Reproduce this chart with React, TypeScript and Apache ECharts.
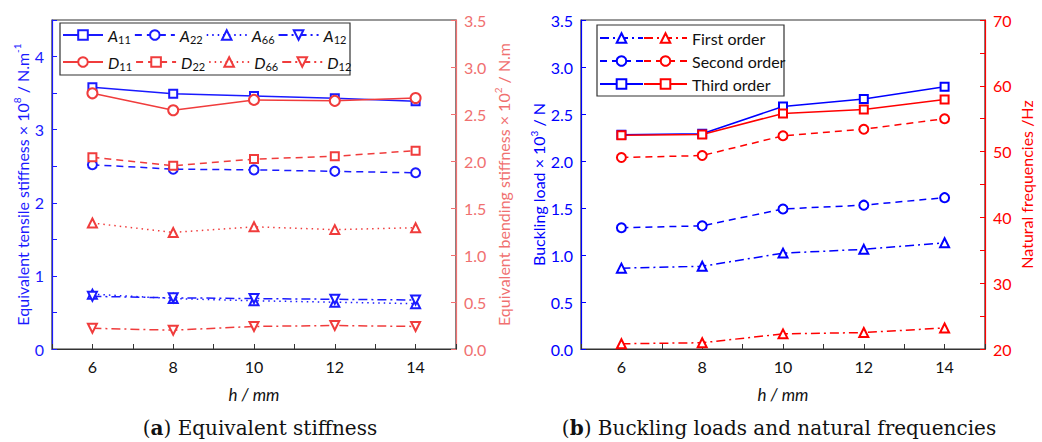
import React, { useEffect, useRef } from "react";
import * as echarts from "echarts";

const H = [6, 8, 10, 12, 14];

// (a) Equivalent stiffness
const A11 = [3.58, 3.49, 3.46, 3.43, 3.39];
const A22 = [2.52, 2.46, 2.45, 2.43, 2.41];
const A66 = [0.75, 0.69, 0.66, 0.64, 0.62];
const A12 = [0.72, 0.7, 0.69, 0.68, 0.67];
const D11 = [2.72, 2.54, 2.65, 2.64, 2.67];
const D22 = [2.04, 1.95, 2.02, 2.05, 2.11];
const D66 = [1.34, 1.24, 1.3, 1.27, 1.29];
const D12 = [0.22, 0.2, 0.24, 0.25, 0.24];

// (b) Buckling loads (x10^3 N) and natural frequencies (Hz)
const buck1 = [0.86, 0.88, 1.02, 1.06, 1.13];
const buck2 = [1.29, 1.31, 1.49, 1.53, 1.61];
const buck3 = [2.28, 2.29, 2.58, 2.66, 2.79];
const freq1 = [20.8, 20.95, 22.3, 22.5, 23.2];
const freq2 = [49.1, 49.4, 52.4, 53.4, 55.0];
const freq3 = [52.5, 52.6, 55.8, 56.4, 57.9];

const BLUE = "#1a1aff";
const RED_A = "#f03c3c";
const RED_A_AXIS = "#f07070";
const BLUE_B = "#0000ff";
const RED_B = "#ff0000";
const FONT = "Lato";
const SERIF = "DejaVu Serif";

const DASH = [7, 5];
const DOT = [1.5, 4];
const DASHDOT = [9, 4, 2, 4];

function mk(
  name: string,
  vals: number[],
  gi: number,
  yi: number,
  color: string,
  type: any,
  symbol: string,
  rotate = 0,
  size = 9
) {
  return {
    name,
    type: "line",
    xAxisIndex: gi,
    yAxisIndex: yi,
    data: H.map((h, i) => [h, vals[i]]),
    color,
    symbol,
    symbolSize: size,
    symbolRotate: rotate,
    showAllSymbol: true,
    lineStyle: { color, width: 1.5, type },
    itemStyle: { color, borderColor: color, borderWidth: 1.3 },
    emphasis: { disabled: true },
    z: 2,
  };
}

const subFmt = (name: string) => `{i|${name[0]}}{s|${name.slice(1)}}`;
const legendRich = {
  i: { fontStyle: "italic", fontSize: 16, fontFamily: FONT, color: "#111", lineHeight: 20, verticalAlign: "middle" },
  s: { fontSize: 11, fontFamily: FONT, color: "#111", lineHeight: 20, verticalAlign: "bottom", padding: [6, 0, 0, 0] },
};
const supRich = (color: string) => ({
  sup: { fontSize: 10, fontFamily: FONT, color, verticalAlign: "top", lineHeight: 20, padding: [0, 0, 8, 0] },
});

function xAxis(gi: number) {
  return {
    type: "value",
    gridIndex: gi,
    min: 5,
    max: 15,
    interval: 1,
    axisLine: { show: true, lineStyle: { color: "#333", width: 1.2 } },
    axisTick: { show: true, inside: true, length: 5, lineStyle: { color: "#333" } },
    axisLabel: {
      color: "#111",
      fontSize: 16,
      fontFamily: FONT,
      margin: 9,
      formatter: (v: number) => (v % 2 === 0 ? String(v) : ""),
    },
    splitLine: { show: false },
    name: "h / mm",
    nameLocation: "middle",
    nameGap: 37,
    nameTextStyle: { fontStyle: "italic", fontSize: 17, fontFamily: FONT, color: "#111" },
  };
}

function yAxis(
  gi: number,
  pos: string,
  min: number,
  max: number,
  interval: number,
  color: string,
  fmt: (v: number) => string,
  name: string,
  nameGap: number
) {
  return {
    type: "value",
    gridIndex: gi,
    position: pos,
    min,
    max,
    interval,
    axisLine: { show: true, lineStyle: { color, width: 1.2 } },
    axisTick: { show: true, inside: true, length: 5, lineStyle: { color } },
    axisLabel: { color, fontSize: 16, fontFamily: FONT, margin: 8, formatter: fmt, showMaxLabel: true },
    splitLine: { show: false },
    name,
    nameLocation: "middle",
    nameRotate: 90,
    nameGap,
    nameTextStyle: { color, fontSize: 16, fontFamily: FONT, rich: supRich(color) },
  };
}

export default function App() {
  const ref = useRef<HTMLDivElement>(null);
  useEffect(() => {
    if (!ref.current) return;
    const chart = echarts.init(ref.current, undefined, { renderer: "svg" });
    const option: any = {
      animation: false,
      backgroundColor: "#fff",
      textStyle: { fontFamily: FONT },
      grid: [
        { left: 52, top: 20, width: 404, height: 329, show: true, borderColor: "#333", borderWidth: 1.2, backgroundColor: "transparent" },
        { left: 581, top: 20, width: 404, height: 329, show: true, borderColor: "#333", borderWidth: 1.2, backgroundColor: "transparent" },
      ],
      xAxis: [xAxis(0), xAxis(1)],
      yAxis: [
        yAxis(0, "left", 0, 4.5, 0.5, BLUE, (v) => (Number.isInteger(v) ? String(v) : ""),
          "Equivalent tensile stiffness × 10{sup|8} / N.m{sup|-1}", 20),
        yAxis(0, "right", 0, 3.5, 0.5, RED_A_AXIS, (v) => v.toFixed(1),
          "Equivalent bending stiffness × 10{sup|2} / N.m", 37),
        yAxis(1, "left", 0, 3.5, 0.5, BLUE_B, (v) => v.toFixed(1), "Buckling load × 10{sup|3} / N", 32),
        yAxis(1, "right", 20, 70, 5, RED_B, (v) => (v % 10 === 0 ? String(v) : ""), "Natural frequencies /Hz", 33),
      ],
      legend: [
        {
          data: ["A11", "A22", "A66", "A12"],
          left: 62, top: 25, padding: 0, itemWidth: 40, itemHeight: 12, itemGap: 3,
          formatter: subFmt, textStyle: { rich: legendRich, lineHeight: 20 }, selectedMode: false,
        },
        {
          data: ["D11", "D22", "D66", "D12"],
          left: 62, top: 52, padding: 0, itemWidth: 40, itemHeight: 12, itemGap: 3,
          formatter: subFmt, textStyle: { rich: legendRich, lineHeight: 20 }, selectedMode: false,
        },
        {
          data: ["First order (load)", "Second order (load)", "Third order (load)"],
          orient: "vertical", left: 599, top: 28, padding: 0, itemWidth: 43, itemHeight: 12, itemGap: 3,
          formatter: () => " ", textStyle: { fontSize: 16, lineHeight: 20, fontFamily: FONT }, selectedMode: false,
        },
        {
          data: ["First order", "Second order", "Third order"],
          orient: "vertical", left: 643, top: 28, padding: 0, itemWidth: 43, itemHeight: 12, itemGap: 3,
          textStyle: { fontSize: 16, lineHeight: 20, fontFamily: FONT, color: "#111" }, selectedMode: false,
        },
      ],
      graphic: [
        { type: "rect", shape: { x: 60, y: 23, width: 290, height: 52 }, style: { fill: "#fff", stroke: "#333", lineWidth: 1.2 }, z: 3 },
        { type: "rect", shape: { x: 597, y: 25, width: 187, height: 71 }, style: { fill: "#fff", stroke: "#333", lineWidth: 1.2 }, z: 3 },
        {
          type: "text", x: 260, y: 428, z: 5,
          style: {
            text: "({b|a}) Equivalent stiffness",
            font: `20px "${SERIF}"`, fill: "#111", align: "center", verticalAlign: "middle",
            rich: { b: { fontWeight: "bold", fontSize: 20, fontFamily: SERIF, fill: "#111" } },
          },
        },
        {
          type: "text", x: 779, y: 428, z: 5,
          style: {
            text: "({b|b}) Buckling loads and natural frequencies",
            font: `20px "${SERIF}"`, fill: "#111", align: "center", verticalAlign: "middle",
            rich: { b: { fontWeight: "bold", fontSize: 20, fontFamily: SERIF, fill: "#111" } },
          },
        },
      ],
      series: [
        mk("A11", A11, 0, 0, BLUE, "solid", "emptyRect", 0, 8),
        mk("A22", A22, 0, 0, BLUE, DASH, "emptyCircle"),
        mk("A66", A66, 0, 0, BLUE, DOT, "emptyTriangle"),
        mk("A12", A12, 0, 0, BLUE, DASHDOT, "emptyTriangle", 180),
        mk("D11", D11, 0, 1, RED_A, "solid", "emptyCircle", 0, 10),
        mk("D22", D22, 0, 1, RED_A, DASH, "emptyRect", 0, 8),
        mk("D66", D66, 0, 1, RED_A, DOT, "emptyTriangle"),
        mk("D12", D12, 0, 1, RED_A, DASHDOT, "emptyTriangle", 180),
        mk("First order (load)", buck1, 1, 2, BLUE_B, DASHDOT, "emptyTriangle"),
        mk("Second order (load)", buck2, 1, 2, BLUE_B, DASH, "emptyCircle"),
        mk("Third order (load)", buck3, 1, 2, BLUE_B, "solid", "emptyRect", 0, 8),
        mk("First order", freq1, 1, 3, RED_B, DASHDOT, "emptyTriangle"),
        mk("Second order", freq2, 1, 3, RED_B, DASH, "emptyCircle"),
        mk("Third order", freq3, 1, 3, RED_B, "solid", "emptyRect", 0, 8),
      ],
    };
    chart.setOption(option);
    return () => chart.dispose();
  }, []);
  return (
    <div
      ref={ref}
      style={{ position: "fixed", left: 0, top: 0, width: 1042, height: 442, background: "#fff" }}
    />
  );
}
